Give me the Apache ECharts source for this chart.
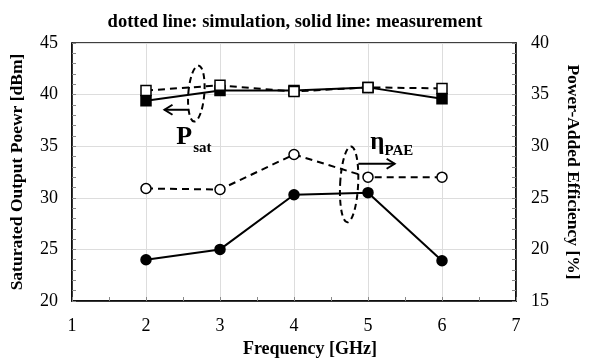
<!DOCTYPE html>
<html>
<head>
    <meta charset="utf-8">
    <title>Psat / PAE</title>
    <script src="https://cdn.jsdelivr.net/npm/echarts@6/dist/echarts.min.js"></script>
</head>
<body style="margin:0">
    <div id="main" style="width:590px; height:363px;"></div>
    <script>
        // data
        var freq = [2, 3, 4, 5, 6]
        var psatMeas = [39.4, 40.4, 40.4, 40.7, 39.6]
        var psatSim = [40.4, 40.9, 40.3, 40.7, 40.6]
        var paeMeas = [19.0, 20.0, 25.3, 25.5, 18.9]
        var paeSim = [25.9, 25.8, 29.2, 27.0, 27.0]

        var font = 'Liberation Serif'
        var pair = (xs, ys) => xs.map((x, i) => [x, ys[i]])

        var element = document.querySelector('#main')
        var myChart = echarts.init(element)

        var lineSeries = (name, data, yIdx, dashed, symbol, filled) => ({
            name: name,
            type: 'line',
            yAxisIndex: yIdx,
            data: data,
            symbol: symbol,
            symbolSize: 10,
            lineStyle: {color: '#000', width: 2, type: dashed ? [7, 5] : 'solid'},
            itemStyle: {color: filled ? '#000' : '#fff', borderColor: '#000', borderWidth: 1.5},
            z: dashed ? 3 : 2,
        })

        var tickLabel = {fontFamily: font, fontSize: 18, color: '#000'}
        var nameStyle = {fontFamily: font, fontWeight: 'bold', fontSize: 17.5, color: '#000'}

        var option = {
            animation: false,
            title: {
                text: 'dotted line: simulation, solid line: measurement',
                left: 'center',
                top: 8,
                textStyle: {fontFamily: font, fontWeight: 'bold', fontSize: 18.5, color: '#000'}
            },
            grid: {
                left: 72, right: 71, top: 43, bottom: 61,
                show: true, borderColor: '#000', borderWidth: 1.5
            },
            xAxis: {
                type: 'value', min: 1, max: 7, interval: 1,
                name: 'Frequency [GHz]',
                nameLocation: 'middle',
                nameGap: 39,
                nameTextStyle: Object.assign({}, nameStyle, {fontSize: 18, padding: [0, 0, 0, 32]}),
                axisLine: {lineStyle: {color: '#000', width: 1.5}},
                axisTick: {inside: true, length: 4, lineStyle: {color: '#888'}},
                minorTick: {show: true, splitNumber: 2, length: 4, lineStyle: {color: '#888'}},
                axisLabel: Object.assign({margin: 16}, tickLabel),
                splitLine: {lineStyle: {color: '#ddd'}}
            },
            yAxis: [{
                type: 'value', min: 20, max: 45, interval: 5,
                name: 'Saturated Output Poewr [dBm]',
                nameLocation: 'middle',
                nameGap: 46,
                nameTextStyle: nameStyle,
                axisLine: {show: true, lineStyle: {color: '#000', width: 1.5}},
                axisTick: {inside: true, length: 4, lineStyle: {color: '#888'}},
                minorTick: {show: true, splitNumber: 5, length: 4, lineStyle: {color: '#888'}},
                axisLabel: Object.assign({margin: 14}, tickLabel),
                splitLine: {lineStyle: {color: '#ddd'}}
            }, {
                type: 'value', min: 15, max: 40, interval: 5,
                name: 'Power-Added Efficiency [%]',
                nameLocation: 'middle',
                nameGap: 48,
                nameRotate: -90,
                nameTextStyle: nameStyle,
                axisLine: {show: true, lineStyle: {color: '#000', width: 1.5}},
                axisTick: {inside: true, length: 4, lineStyle: {color: '#888'}},
                minorTick: {show: true, splitNumber: 5, length: 4, lineStyle: {color: '#888'}},
                axisLabel: Object.assign({margin: 15}, tickLabel),
                splitLine: {show: false}
            }],
            series: [
                lineSeries('Psat meas', pair(freq, psatMeas), 0, false, 'rect', true),
                lineSeries('Psat sim', pair(freq, psatSim), 0, true, 'rect', false),
                lineSeries('PAE meas', pair(freq, paeMeas), 1, false, 'circle', true),
                lineSeries('PAE sim', pair(freq, paeSim), 1, true, 'circle', false),
            ]
        }
        myChart.setOption(option)

        // annotations (ellipses, arrows, labels) placed in data coordinates of left axis
        var px = (x, y) => myChart.convertToPixel({xAxisIndex: 0, yAxisIndex: 0}, [x, y])
        var dashed = {stroke: '#000', fill: 'none', lineWidth: 2, lineDash: [6, 4]}
        var arrow = (from, to) => {
            var a = px(from[0], from[1])
            var b = px(to[0], to[1])
            var dir = b[0] > a[0] ? 1 : -1
            return [{
                type: 'line', shape: {x1: a[0], y1: a[1], x2: b[0], y2: b[1]},
                style: {stroke: '#000', lineWidth: 2}
            }, {
                type: 'polyline',
                shape: {points: [[b[0] - dir * 8, b[1] - 5], [b[0], b[1]], [b[0] - dir * 8, b[1] + 5]]},
                style: {stroke: '#000', fill: 'none', lineWidth: 2}
            }]
        }
        var e1 = px(2.68, 40.1)
        var e2 = px(4.745, 31.3)
        var t1 = px(2.41, 35.9)
        var t2 = px(5.03, 35.35)
        var graphics = [
            {type: 'ellipse', shape: {cx: e1[0], cy: e1[1], rx: 8, ry: 28}, style: dashed, rotation: -0.08, originX: e1[0], originY: e1[1]},
            {type: 'ellipse', shape: {cx: e2[0], cy: e2[1], rx: 9, ry: 38}, style: dashed, rotation: -0.05, originX: e2[0], originY: e2[1]},
            {
                type: 'text', x: t1[0], y: t1[1],
                style: {
                    text: '{a|P}{b|sat}', fill: '#000', verticalAlign: 'middle',
                    rich: {
                        a: {fontFamily: font, fontWeight: 'bold', fontSize: 26, verticalAlign: 'bottom'},
                        b: {fontFamily: font, fontWeight: 'bold', fontSize: 15, verticalAlign: 'bottom', padding: [0, 0, -6, 1]}
                    }
                }
            },
            {
                type: 'text', x: t2[0], y: t2[1],
                style: {
                    text: '{a|η}{b|PAE}', fill: '#000', verticalAlign: 'middle',
                    rich: {
                        a: {fontFamily: font, fontWeight: 'bold', fontSize: 25, verticalAlign: 'bottom'},
                        b: {fontFamily: font, fontWeight: 'bold', fontSize: 15, verticalAlign: 'bottom', padding: [0, 0, -4, 0]}
                    }
                }
            },
        ].concat(arrow([2.58, 38.53], [2.25, 38.53]), arrow([4.87, 33.3], [5.36, 33.3]))
        myChart.setOption({graphic: graphics.map(g => Object.assign({z: 10}, g))})
    </script>
</body>
</html>
